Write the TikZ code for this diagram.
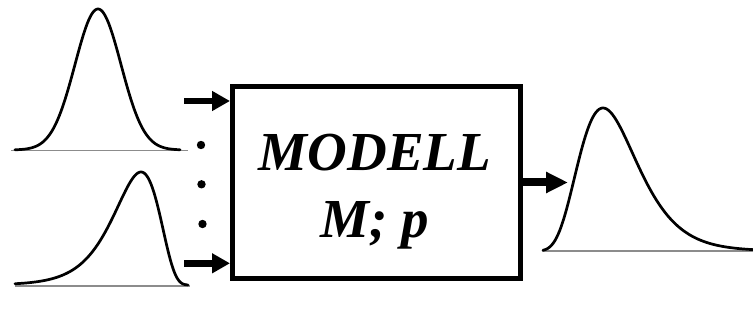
\documentclass[tikz,border=0pt]{standalone}
\usepackage{fontspec}
\setmainfont{LiberationSerif}[Extension=.ttf, UprightFont=*-Regular, BoldFont=*-Bold, ItalicFont=*-Italic, BoldItalicFont=*-BoldItalic]
\usetikzlibrary{arrows.meta}
\begin{document}
\begin{tikzpicture}[x=1pt, y=-1pt,
  density/.style={line width=2.7pt, line join=round, line cap=round},
  axisline/.style={line width=1.3pt, draw=black!45},
  modelbox/.style={draw, line width=5pt, minimum width=288pt, minimum height=192pt, inner sep=0pt},
  modeltext/.style={align=center, inner sep=0pt, font=\fontsize{55}{67}\selectfont\bfseries\itshape},
  feed/.style={line width=6.6pt, -{Triangle[length=18pt, width=19pt]}},
  result/.style={line width=8pt, -{Triangle[length=22pt, width=20pt]}},
  dotmark/.style={fill=black}
]
\useasboundingbox (0,0) rectangle (753,320);

% input density 1 (symmetric)
\draw[axisline] (11,150.5) -- (188,150.5);
\draw[density] plot[domain=15:180, samples=120]
  (\x, {150 - 141*exp(-((\x-98)/23)*((\x-98)/23)/2)});

% input density 2 (skewed to the left)
\draw[axisline] (15,286) -- (190,286);
\draw[density] plot[domain=15:188, samples=140]
  (\x, {285 - 113*exp(-(ln((203-\x)/62))*(ln((203-\x)/62))/(2*0.37*0.37))});

% model block
\node[modelbox] (model) at (376.5,182.5) {};
\node[modeltext] (label) at (375,192) {MODELL\\M; p};

% input arrows and ellipsis
\coordinate (in1) at (184,101);
\coordinate (in2) at (184,263.3);
\draw[feed] (in1) -- (in1 -| model.west);
\draw[feed] (in2) -- (in2 -| model.west);
\fill[dotmark] (201,145) circle (4.2pt);
\fill[dotmark] (201.5,184.3) circle (4.2pt);
\fill[dotmark] (202.5,224) circle (4.2pt);

% output arrow
\coordinate (out) at (568,182.5);
\draw[result] (model.east) -- (out);

% output density (skewed to the right)
\draw[axisline] (542,251) -- (753,251);
\draw[density] plot[domain=543:753, samples=140]
  (\x, {251 - 143*exp(-(ln((\x-509)/94))*(ln((\x-509)/94))/(2*0.313*0.313))});
\end{tikzpicture}
\end{document}
